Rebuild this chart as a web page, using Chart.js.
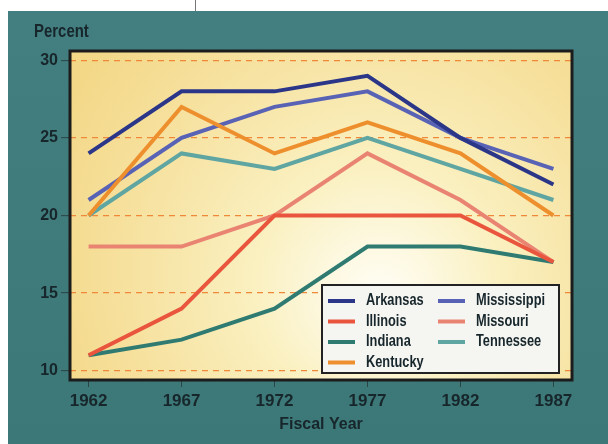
<!DOCTYPE html>
<html>
<head>
<meta charset="utf-8">
<script src="https://cdn.jsdelivr.net/npm/chart.js@4.4.0/dist/chart.umd.min.js"></script>
<style>
    body { margin: 0; background: #ffffff; }
    #wrap { position: relative; width: 608px; height: 444px; overflow: hidden; }
    #panel { position: absolute; left: 8px; top: 11px; width: 600px; height: 433px;
        background: linear-gradient(180deg, #437f80 0%, #3d7878 100%); }
    #cut { position: absolute; left: 195px; top: 0; width: 1px; height: 11px; background: #777; }
    #myChart { position: absolute; left: 0; top: 0; }
</style>
</head>
<body>
<div id="wrap">
    <div id="panel"></div>
    <div id="cut"></div>
    <canvas id="myChart" width="608" height="444"></canvas>
</div>
<script>
'use strict';

var years = [1962, 1967, 1972, 1977, 1982, 1987];
var yTicks = [10, 15, 20, 25, 30];

var arkansas = [24, 28, 28, 29, 25, 22];
var illinois = [11, 14, 20, 20, 20, 17];
var indiana = [11, 12, 14, 18, 18, 17];
var kentucky = [20, 27, 24, 26, 24, 20];
var mississippi = [21, 25, 27, 28, 25, 23];
var missouri = [18, 18, 20, 24, 21, 17];
var tennessee = [20, 24, 23, 25, 23, 21];

var stateNames = ['Arkansas', 'Illinois', 'Indiana', 'Kentucky', 'Mississippi', 'Missouri', 'Tennessee'];
var stateValues = [arkansas, illinois, indiana, kentucky, mississippi, missouri, tennessee];
var stateColors = ['#2b3688', '#e9553d', '#2f7b72', '#ee8f2e', '#5963b5', '#ea8472', '#5fa5a2'];

var textColor = '#17262b';
var boldFont = '"Liberation Sans", Arial, sans-serif';

function makeDatasets() {
    var sets = [];
    for (var i = 0; i < stateNames.length; i++) {
        var pts = [];
        for (var j = 0; j < years.length; j++) {
            pts.push({ x: years[j], y: stateValues[i][j] });
        }
        sets.push({
            label: stateNames[i],
            data: pts,
            borderColor: stateColors[i],
            backgroundColor: stateColors[i],
            borderWidth: 4,
            pointRadius: 0,
            tension: 0
        });
    }
    return sets;
}

// narrow-looking bold text (squeezed horizontally)
function narrowText(ctx, txt, x, y, squeeze) {
    ctx.save();
    ctx.translate(x, y);
    ctx.scale(squeeze, 1);
    ctx.fillText(txt, 0, 0);
    ctx.restore();
}

// yellow plot background + black frame
var plotBack = {
    id: 'plotBack',
    beforeDraw: function(chart) {
        var a = chart.chartArea;
        var ctx = chart.ctx;
        var g = ctx.createRadialGradient(380, 300, 5, 370, 260, 340);
        g.addColorStop(0, '#fffef6');
        g.addColorStop(0.35, '#faf0c0');
        g.addColorStop(0.75, '#f6e09c');
        g.addColorStop(1, '#f3d888');
        ctx.save();
        ctx.fillStyle = g;
        ctx.fillRect(a.left, a.top, a.right - a.left, a.bottom - a.top);
        ctx.restore();
    },
    afterDraw: function(chart) {
        var a = chart.chartArea;
        var ctx = chart.ctx;
        ctx.save();
        ctx.strokeStyle = '#1c1c1c';
        ctx.lineWidth = 3;
        ctx.strokeRect(a.left, a.top, a.right - a.left, a.bottom - a.top);

        // "Percent" heading
        ctx.fillStyle = textColor;
        ctx.font = 'bold 18px ' + boldFont;
        ctx.textBaseline = 'middle';
        narrowText(ctx, 'Percent', 34, 32, 0.83);
        ctx.restore();
    }
};

// two column legend box
var boxLegend = {
    id: 'boxLegend',
    afterDraw: function(chart) {
        var ctx = chart.ctx;
        var sets = chart.data.datasets;
        ctx.save();
        ctx.fillStyle = '#f5f5f2';
        ctx.fillRect(322, 285, 237, 88);
        ctx.strokeStyle = '#222';
        ctx.lineWidth = 2;
        ctx.strokeRect(322, 285, 237, 88);
        ctx.font = 'bold 16px ' + boldFont;
        ctx.textBaseline = 'middle';
        for (var i = 0; i < sets.length; i++) {
            var col = i < 4 ? 0 : 1;
            var row = i < 4 ? i : i - 4;
            var x = col === 0 ? 328 : 438;
            var y = 301 + row * 20.5;
            ctx.strokeStyle = sets[i].borderColor;
            ctx.lineWidth = 4;
            ctx.beginPath();
            ctx.moveTo(x, y);
            ctx.lineTo(x + 27, y);
            ctx.stroke();
            ctx.fillStyle = textColor;
            narrowText(ctx, sets[i].label, x + 38, y, 0.8);
        }
        ctx.restore();
    }
};

var ctx = document.getElementById('myChart').getContext('2d');

var chart = new Chart(ctx, {
    type: 'line',
    data: { datasets: makeDatasets() },
    plugins: [plotBack, boxLegend],
    options: {
        responsive: false,
        animation: false,
        layout: { padding: { left: 0, top: 51, right: 36, bottom: 0 } },
        plugins: {
            legend: { display: false },
            tooltip: { enabled: false }
        },
        scales: {
            x: {
                type: 'linear',
                min: 1961,
                max: 1988,
                afterBuildTicks: function(scale) {
                    scale.ticks = years.map(function(v) { return { value: v }; });
                },
                afterFit: function(scale) { scale.height = 64; },
                border: { display: false },
                grid: {
                    drawOnChartArea: false,
                    drawTicks: true,
                    tickLength: 7,
                    tickColor: '#2b4446',
                    tickWidth: 1
                },
                ticks: {
                    color: textColor,
                    padding: 4,
                    maxRotation: 0,
                    font: { family: boldFont, size: 17, weight: 'bold' },
                    callback: function(v) { return String(v); }
                },
                title: {
                    display: true,
                    text: 'Fiscal Year',
                    color: textColor,
                    padding: { top: 0, bottom: 10 },
                    font: { family: boldFont, size: 16, weight: 'bold' }
                }
            },
            y: {
                min: 9.4,
                max: 30.6,
                afterBuildTicks: function(scale) {
                    scale.ticks = yTicks.map(function(v) { return { value: v }; });
                },
                afterFit: function(scale) { scale.width = 70; },
                border: { display: false, dash: [6, 5] },
                grid: {
                    color: '#f0883a',
                    lineWidth: 1.3,
                    drawTicks: true,
                    tickLength: 9,
                    tickColor: '#2b4446',
                    tickBorderDash: [],
                    tickWidth: 1
                },
                ticks: {
                    color: textColor,
                    padding: 3,
                    font: { family: boldFont, size: 16, weight: 'bold' }
                }
            }
        }
    }
});
</script>
</body>
</html>
